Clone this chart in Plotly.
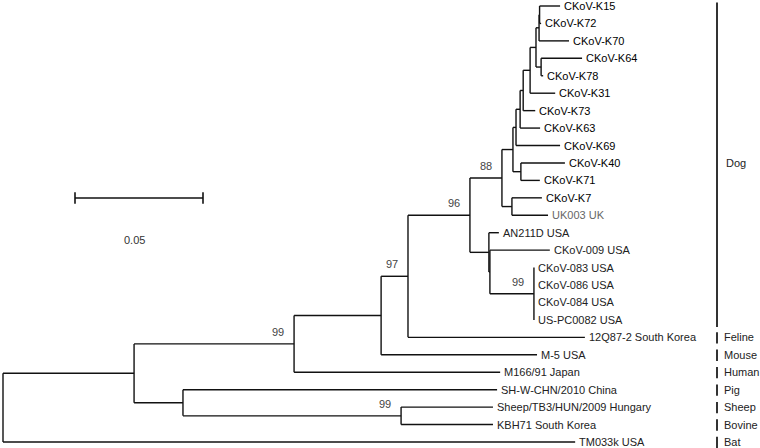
import plotly.graph_objects as go

# ---------------- data ----------------
# tree edges: child, parent, branch length (substitutions / site)
edge_child = ["n1", "n2", "n3", "n4", "n5", "n6", "n7", "n8", "n9", "n10", "n11", "n12", "n13", "n14",
              "CKoV-K15", "CKoV-K72", "CKoV-K70", "n15", "CKoV-K64", "CKoV-K78", "CKoV-K31", "CKoV-K73",
              "CKoV-K63", "CKoV-K69", "n16", "CKoV-K40", "CKoV-K71", "n17", "CKoV-K7", "UK003 UK",
              "n18", "AN211D USA", "n19", "CKoV-009 USA", "n20", "CKoV-083 USA", "CKoV-086 USA",
              "CKoV-084 USA", "US-PC0082 USA", "12Q87-2 South Korea", "M-5 USA", "M166/91 Japan",
              "n21", "SH-W-CHN/2010 China", "n22", "Sheep/TB3/HUN/2009 Hungary", "KBH71 South Korea",
              "TM033k USA"]
edge_parent = ["root", "n1", "n2", "n3", "n4", "n5", "n6", "n7", "n8", "n9", "n10", "n11", "n12", "n13",
               "n14", "n14", "n13", "n12", "n15", "n15", "n11", "n10",
               "n9", "n8", "n7", "n16", "n16", "n6", "n17", "n17",
               "n5", "n18", "n18", "n19", "n19", "n20", "n20",
               "n20", "n20", "n4", "n3", "n2",
               "n1", "n21", "n21", "n22", "n22",
               "root"]
branch_len = [0.0512, 0.0625, 0.0340, 0.0105, 0.0242, 0.0125, 0.0043, 0.0012, 0.0016, 0.0012, 0.0027, 0.0023, 0.0012, 0.0002,
              0.0080, 0.0006, 0.0117, 0.0020, 0.0160, 0.0008, 0.0098, 0.0047,
              0.0078, 0.0172, 0.0031, 0.0172, 0.0074, 0.0039, 0.0117, 0.0141,
              0.0074, 0.0039, 0.0004, 0.0234, 0.0172, 0.0, 0.0,
              0.0, 0.0, 0.0691, 0.0609, 0.0805,
              0.0191, 0.1227, 0.0852, 0.0359, 0.0359,
              0.2235]

# leaf display order (top to bottom)
leaf_order = ["CKoV-K15", "CKoV-K72", "CKoV-K70", "CKoV-K64", "CKoV-K78", "CKoV-K31", "CKoV-K73",
              "CKoV-K63", "CKoV-K69", "CKoV-K40", "CKoV-K71", "CKoV-K7", "UK003 UK", "AN211D USA",
              "CKoV-009 USA", "CKoV-083 USA", "CKoV-086 USA", "CKoV-084 USA", "US-PC0082 USA",
              "12Q87-2 South Korea", "M-5 USA", "M166/91 Japan", "SH-W-CHN/2010 China",
              "Sheep/TB3/HUN/2009 Hungary", "KBH71 South Korea", "TM033k USA"]

# bootstrap support
support_node = ["n6", "n5", "n4", "n2", "n20", "n22"]
support_value = [88, 96, 97, 99, 99, 99]

# host groups (first leaf index, last leaf index)
host_names = ["Dog", "Feline", "Mouse", "Human", "Pig", "Sheep", "Bovine", "Bat"]
host_first = [0, 19, 20, 21, 22, 23, 24, 25]
host_last = [18, 19, 20, 21, 22, 23, 24, 25]

scale_length = 0.05
scale_label = "0.05"

# ---------------- layout computation ----------------
children = {}
for c, p in zip(edge_child, edge_parent):
    children.setdefault(p, []).append(c)
blen = dict(zip(edge_child, branch_len))

xpos = {"root": 0.0}
def set_x(n):
    for c in children.get(n, []):
        xpos[c] = xpos[n] + blen[c]
        set_x(c)
set_x("root")

ypos = {name: i for i, name in enumerate(leaf_order)}
def set_y(n):
    if n in ypos:
        return ypos[n]
    ys = [set_y(c) for c in children[n]]
    ypos[n] = (ys[0] + ys[-1]) / 2
    return ypos[n]
set_y("root")

lx, ly = [], []
for c, p in zip(edge_child, edge_parent):
    lx += [xpos[p], xpos[c], None]
    ly += [ypos[c], ypos[c], None]
for p, cs in children.items():
    ys = [ypos[c] for c in cs]
    lx += [xpos[p], xpos[p], None]
    ly += [min(ys), max(ys), None]

PX = 2560.0  # pixels per unit branch length
x0 = -3 / PX
x1 = x0 + 760 / PX
YPX = 17.44
y0 = -6 / YPX
y1 = y0 + 448 / YPX

fig = go.Figure()
fig.add_trace(go.Scatter(x=lx, y=ly, mode="lines", line=dict(color="#111111", width=1.4),
                         hoverinfo="skip", showlegend=False, cliponaxis=False))

font_family = "Liberation Sans, Arial, sans-serif"
FS = 11
annotations = []
for name in leaf_order:
    col = "#000000" if name.startswith("CKoV-K") else ("#666666" if name == "UK003 UK" else "#222222")
    annotations.append(dict(x=xpos[name], y=ypos[name], text=name, showarrow=False,
                            xanchor="left", yanchor="middle", xshift=2,
                            font=dict(family=font_family, size=FS, color=col)))
for n, v in zip(support_node, support_value):
    annotations.append(dict(x=xpos[n], y=ypos[n], text=str(v), showarrow=False,
                            xanchor="right", yanchor="bottom", xshift=-8, yshift=4,
                            font=dict(family=font_family, size=FS, color="#444444")))

# host brackets
bx = 714 / PX
hx, hy = [], []
for name, f, l in zip(host_names, host_first, host_last):
    hx += [bx, bx, None]
    hy += [f - 0.2 if f == 0 else f - 0.3, l + 0.4 if l != f else l + 0.35, None]
    annotations.append(dict(x=bx, y=(f + l) / 2, text=name, showarrow=False,
                            xanchor="left", yanchor="middle", xshift=7 if name == "Dog" else 5,
                            font=dict(family=font_family, size=FS, color="#222222")))
fig.add_trace(go.Scatter(x=hx, y=hy, mode="lines", line=dict(color="#333333", width=2),
                         hoverinfo="skip", showlegend=False, cliponaxis=False))

# scale bar
sx0 = 72 / PX
sy = (198 - 6) / YPX
tick = 0.33
fig.add_trace(go.Scatter(x=[sx0, sx0 + scale_length, None, sx0, sx0, None, sx0 + scale_length, sx0 + scale_length],
                         y=[sy, sy, None, sy - tick, sy + tick, None, sy - tick, sy + tick],
                         mode="lines", line=dict(color="#111111", width=1.6),
                         hoverinfo="skip", showlegend=False))
annotations.append(dict(x=sx0 + scale_length / 2, y=(240 - 6) / YPX, text=scale_label, showarrow=False,
                        xanchor="center", yanchor="middle", xshift=-5,
                        font=dict(family=font_family, size=FS, color="#333333")))

fig.update_layout(
    width=760, height=448,
    margin=dict(l=0, r=0, t=0, b=0),
    paper_bgcolor="white", plot_bgcolor="white",
    xaxis=dict(range=[x0, x1], visible=False, fixedrange=True),
    yaxis=dict(range=[y1, y0], visible=False, fixedrange=True),
    annotations=annotations,
    showlegend=False,
)

fig.write_html("out.html", config={"displayModeBar": False},
               post_script="document.body.style.margin='0px';")
